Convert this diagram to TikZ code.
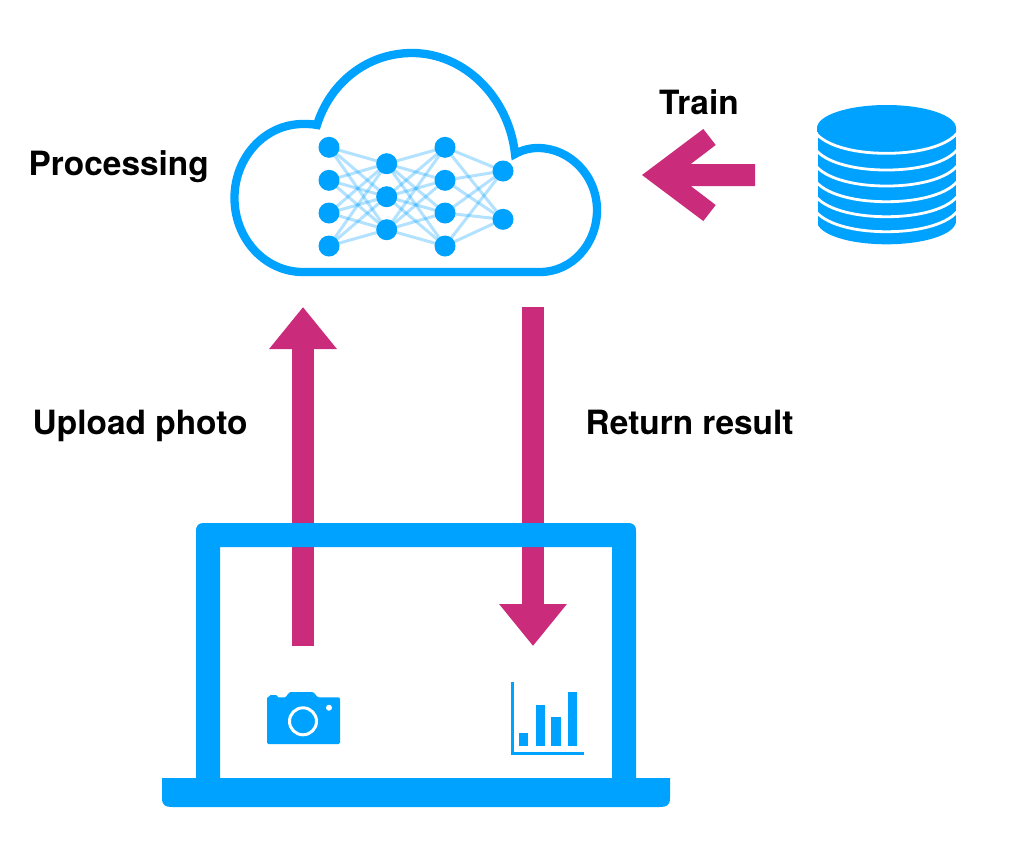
\documentclass[tikz,border=0pt]{standalone}
\usepackage{fontspec}
\setmainfont{TeX Gyre Heros}
\usetikzlibrary{arrows.meta,backgrounds}
\definecolor{skyblue}{HTML}{00A2FF}
\definecolor{flowpink}{HTML}{CB2B7B}
\tikzset{
  neuron/.style={circle,fill=skyblue,inner sep=0pt,minimum size=21pt},
  synapse/.style={draw=skyblue,draw opacity=.3,line width=3pt},
  cloudline/.style={draw=skyblue,line width=8.3pt,miter limit=10},
  flow/.style={draw=flowpink,line width=22pt,-{Triangle[length=42pt,width=65pt]}},
  label/.style={anchor=base west,font=\bfseries\fontsize{33.4pt}{36pt}\selectfont,inner sep=0pt,text=black},
  icon/.style={fill=skyblue},
  gap/.style={draw=white,line width=2.8pt}
}
\begin{document}
\begin{tikzpicture}[x=1pt,y=-1pt]
\useasboundingbox (0,0) rectangle (1016,860);
\begin{scope}[on background layer]
  \fill[white] (0,0) rectangle (1016,860);
\end{scope}

% Flow arrows (under the laptop)
\coordinate (upFrom) at (303,646);
\coordinate (upTo) at (303,307);
\coordinate (downFrom) at (533,307);
\coordinate (downTo) at (533,646);
\draw[flow] (upFrom) -- (upTo);
\draw[flow] (downFrom) -- (downTo);

% Cloud
\draw[cloudline] (303,272) -- (540,272)
  .. controls (572,272) and (597,244) .. (597,210)
  .. controls (597,176) and (570,148) .. (538,148)
  .. controls (530,148) and (522,150) .. (515,154)
  .. controls (509,98) and (465,53) .. (412,53)
  .. controls (367,53) and (330,83) .. (317,125)
  .. controls (312,124) and (308,124) .. (303,124)
  .. controls (265,124) and (234.5,157) .. (234.5,198)
  .. controls (234.5,239) and (265,272) .. (303,272) -- cycle;

% Neural network
\foreach \n/\x/\y in {a1/329/147.3,a2/329/180.3,a3/329/213,a4/329/246,
                      b1/386.7/163.7,b2/386.7/196.7,b3/386.7/229.7,
                      c1/445/147.3,c2/445/180.3,c3/445/213,c4/445/246,
                      d1/503/171,d2/503/219.3}
  \node[neuron] (\n) at (\x,\y) {};
\begin{scope}[on background layer]
  \foreach \p in {a1,a2,a3,a4} \foreach \q in {b1,b2,b3} \draw[synapse] (\p.center) -- (\q.center);
  \foreach \p in {b1,b2,b3} \foreach \q in {c1,c2,c3,c4} \draw[synapse] (\p.center) -- (\q.center);
  \foreach \p in {c1,c2,c3,c4} \foreach \q in {d1,d2} \draw[synapse] (\p.center) -- (\q.center);
\end{scope}

% Train arrow
\coordinate (trainFrom) at (755,175);
\coordinate (trainTo) at (642,175);
\fill[flowpink] (trainFrom) ++(0,-11) -- (690.7,164) -- (715.7,145) -- (703.3,129)
  -- (trainTo) -- (703.3,221) -- (715.7,205) -- (690.7,186) -- (755,186) -- cycle;

% Database
\fill[icon] (817,128) -- (817,221) .. controls (817,234) and (848,244.3) .. (886.5,244.3)
  .. controls (925,244.3) and (956,234) .. (956,221) -- (956,128) -- cycle;
\fill[icon] (886.5,128) ellipse [x radius=69.5,y radius=23];
\foreach \b in {153.3,170,186,201.7,216.7,231.7}
  \draw[gap] (816,\b-20) .. controls (825,\b-9) and (850,\b) .. (886.5,\b)
     .. controls (923,\b) and (948,\b-9) .. (957,\b-20);
\fill[white] (812,132) rectangle (817.5,236);
\fill[white] (955.6,132) rectangle (961,236);

% Laptop
\fill[icon,even odd rule] (196,778) -- (196,532) .. controls (196,525) and (198,523) .. (205,523)
  -- (627,523) .. controls (634,523) and (636,525) .. (636,532) -- (636,778) -- (612,778)
  -- (612,547) -- (220,547) -- (220,778) -- cycle;
\fill[icon] (162,778) -- (670,778) -- (670,798) .. controls (670,805) and (667,807) .. (660,807)
  -- (172,807) .. controls (165,807) and (162,805) .. (162,798) -- cycle;

% Camera
\fill[icon] (267,699) .. controls (267,697.5) and (268,697) .. (269,696.5)
  -- (270.5,695) -- (276,695) -- (278.5,697.3) -- (285,697.3)
  .. controls (287,697) and (288,692) .. (291,692) -- (312,692)
  .. controls (315,692) and (316,697.3) .. (319,697.3)
  -- (338,697.3) .. controls (339.5,697.3) and (340,698) .. (340,699.5)
  -- (340,742.5) .. controls (340,743.5) and (339.5,744) .. (338.5,744)
  -- (268.5,744) .. controls (267.5,744) and (267,743.5) .. (267,742.5) -- cycle;
\draw[white,line width=3pt] (303,721.3) circle [radius=13.5];
\fill[white] (329,707.7) circle [radius=3];

% Chart
\fill[icon] (511,681.7) rectangle (514,755);
\fill[icon] (511,751.7) rectangle (584.3,755);
\fill[icon] (519.3,733.3) rectangle (528,746.3);
\fill[icon] (535.7,705) rectangle (545,746.3);
\fill[icon] (551.3,716.7) rectangle (560.7,746.3);
\fill[icon] (568,692) rectangle (577,746.3);

% Labels
\node[label] (processing) at (28.5,175) {Processing};
\node[label] (train) at (659,114) {Train};
\node[label] (upload) at (32.5,434) {Upload photo};
\node[label] (return) at (585.5,434) {Return result};
\end{tikzpicture}
\end{document}
